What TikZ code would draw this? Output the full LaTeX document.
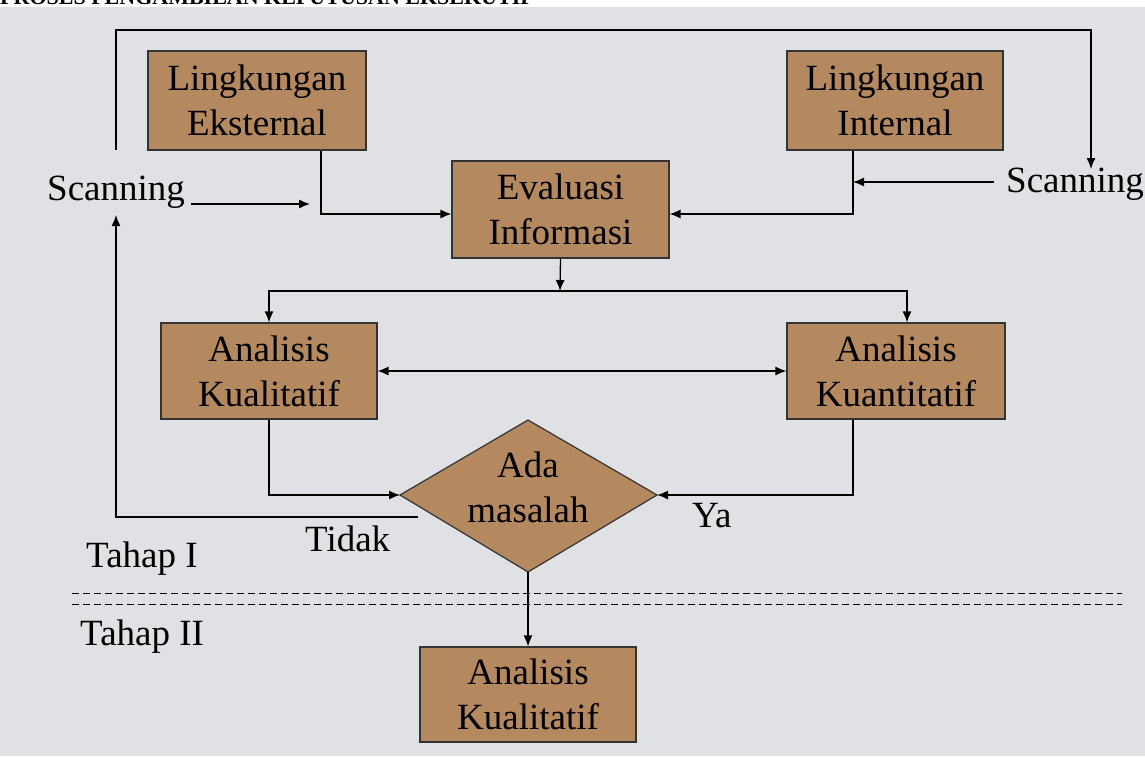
\documentclass[tikz,border=0pt]{standalone}
\usepackage{fontspec}
\setmainfont{Liberation Serif}
\usetikzlibrary{arrows.meta}

\definecolor{boxbrown}{RGB}{181,137,96}
\definecolor{marble}{RGB}{224,225,228}

\begin{document}
\begin{tikzpicture}[x=1pt,y=-1pt]
\tikzset{mybox/.style={draw=black!80,fill=boxbrown,line width=1.2pt,align=center,
    inner sep=0pt,font=\fontsize{37}{45}\selectfont},
  mytext/.style={font=\fontsize{37}{45}\selectfont,inner sep=0pt,anchor=base west},
  myline/.style={line width=1.3pt},
  myarrow/.style={myline,-{Latex[length=11pt,width=9pt]}},
  stageline/.style={line width=1pt,dash pattern=on 7pt off 4pt}}
\useasboundingbox (0,0) rectangle (1145,756);
\fill[white] (0,0) rectangle (1145,7);
\fill[marble] (0,7) rectangle (1145,756);
\node[anchor=base west,inner sep=0pt,font=\fontsize{22}{26}\selectfont\bfseries] (title) at (0,4) {PROSES PENGAMBILAN KEPUTUSAN EKSEKUTIF};

% boxes
\node[mybox,minimum width=218,minimum height=99] (lingeks) at (257,100.5) {Lingkungan\\Eksternal};
\node[mybox,minimum width=216,minimum height=99] (lingint) at (895,100.5) {Lingkungan\\Internal};
\node[mybox,minimum width=217,minimum height=97] (evalinfo) at (560.5,209.5) {Evaluasi\\Informasi};
\node[mybox,minimum width=216,minimum height=96] (kual) at (269,371) {Analisis\\Kualitatif};
\node[mybox,minimum width=218,minimum height=96] (kuan) at (896,371) {Analisis\\Kuantitatif};
\node[mybox,minimum width=216,minimum height=95] (kualdua) at (528,694.5) {Analisis\\Kualitatif};

% decision
\coordinate (dl) at (400,495);
\coordinate (dr) at (657,495);
\coordinate (dt) at (528,420);
\coordinate (db) at (528,572);
\filldraw[draw=black!80,fill=boxbrown,line width=1.2pt] (dl) -- (dt) -- (dr) -- (db) -- cycle;
\node[align=center,inner sep=0pt,font=\fontsize{37}{45}\selectfont] (masalah) at (528,487) {Ada\\masalah};

% labels
\node[mytext] (scanL) at (47,200) {Scanning};
\node[mytext] (scanR) at (1006,192) {Scanning};
\node[mytext] (tidak) at (305,551) {Tidak};
\node[mytext] (ya) at (692,527) {Ya};
\node[mytext] (tahapI) at (86,567) {Tahap I};
\node[mytext] (tahapII) at (80,645) {Tahap II};

% helper points
\coordinate (loopL) at (116,150);
\coordinate (loopR) at (1091,169);
\coordinate (scanLend) at (310,204);
\coordinate (scanRend) at (853,182);
\coordinate (tidakend) at (418,517);
\coordinate (scanLbot) at (116,215);
\coordinate (split) at (560,291);

% connectors
\draw[myarrow] (loopL) -- (116,30) -| (loopR);
\draw[myarrow] (scanL.east |- scanLend) ++(6,0) -- (scanLend);
\draw[myarrow] (scanR.west |- scanRend) ++(-12,0) -- (scanRend);
\draw[myarrow] (lingeks.south -| 321,0) |- (evalinfo.west |- 0,214);
\draw[myarrow] (lingint.south -| 853,0) |- (evalinfo.east |- 0,214);
\draw[myarrow] (evalinfo.south) -- (split);
\draw[myarrow] (split) -| (kual.north);
\draw[myarrow] (split) -| (kuan.north -| 907,0);
\draw[myline,{Latex[length=11pt,width=9pt]}-{Latex[length=11pt,width=9pt]}] (kual.east) -- (kuan.west);
\draw[myarrow] (kual.south) |- (dl);
\draw[myarrow] (kuan.south -| 853,0) |- (dr);
\draw[myarrow] (tidakend) -| (scanLbot);
\draw[myarrow] (db) -- (kualdua.north);

% stage split
\draw[stageline] (72,593) -- (1122,593);
\draw[stageline] (72,604) -- (1122,604);
\end{tikzpicture}
\end{document}
